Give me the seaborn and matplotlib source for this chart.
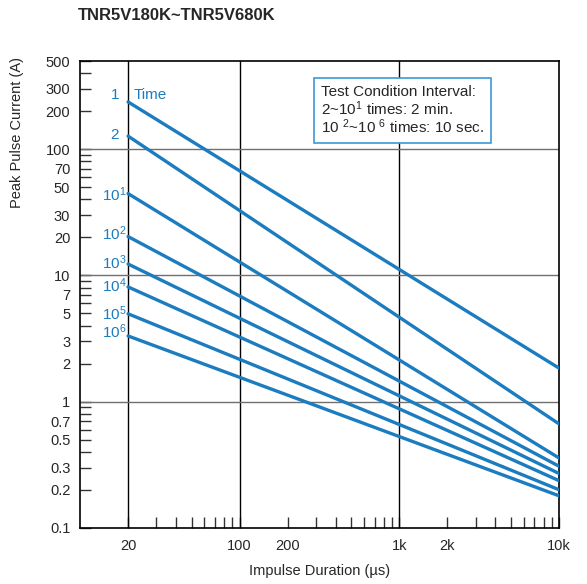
import numpy as np
import pandas as pd
import matplotlib
matplotlib.use('Agg')
import matplotlib.pyplot as plt
import seaborn as sns
from matplotlib.ticker import FixedLocator, NullFormatter

# data
durations = [20, 10000]
series = ['1', '2', '10^1', '10^2', '10^3', '10^4', '10^5', '10^6']
series_labels = ['1', '2', r'$\mathregular{10^1}$', r'$\mathregular{10^2}$', r'$\mathregular{10^3}$',
                 r'$\mathregular{10^4}$', r'$\mathregular{10^5}$', r'$\mathregular{10^6}$']
start_current = [237, 127, 44.5, 20.3, 12.3, 8.1, 4.96, 3.31]
end_current = [1.84, 0.665, 0.357, 0.307, 0.269, 0.236, 0.200, 0.179]

x_ticks = [20, 100, 200, 1000, 2000, 10000]
x_ticklabels = ['20', '100', '200', '1k', '2k', '10k']
y_ticks = [0.1, 0.2, 0.3, 0.5, 0.7, 1, 2, 3, 5, 7, 10, 20, 30, 50, 70, 100, 200, 300, 500]
y_ticklabels = ['0.1', '0.2', '0.3', '0.5', '0.7', '1', '2', '3', '5', '7', '10', '20', '30',
                '50', '70', '100', '200', '300', '500']

rows = []
for s, a, b in zip(series, start_current, end_current):
    rows.append({'series': s, 'duration': durations[0], 'current': a})
    rows.append({'series': s, 'duration': durations[1], 'current': b})
df = pd.DataFrame(rows)

sns.set_style('white')
plt.rcParams['font.family'] = ['Liberation Sans', 'DejaVu Sans']
plt.rcParams['mathtext.fontset'] = 'custom'
plt.rcParams['mathtext.rm'] = 'Liberation Sans'

blue = '#1b7cc0'

fig = plt.figure(figsize=(5.87, 5.84), dpi=100)
ax = fig.add_axes([80 / 587, 1 - 527.7 / 584, 479 / 587, 466.7 / 584])

ax.set_xscale('log')
ax.set_yscale('log')
ax.set_xlim(10, 10000)
ax.set_ylim(0.1, 500)

# grid lines
for xv in [20, 100, 1000]:
    ax.axvline(xv, color='black', lw=1.0, zorder=1)
for yv in [1, 10, 100]:
    ax.axhline(yv, color='#707070', lw=1.0, zorder=1)

sns.lineplot(data=df, x='duration', y='current', units='series', estimator=None,
             color=blue, lw=2.4, ax=ax, legend=False, zorder=3)

# series labels
offsets = [(-6, 5), (-7, 1), (-1, -1), (-1, 2), (-1, 1), (-1, 1), (-1, 0), (-1, 3)]
for lab, a, off in zip(series_labels, start_current, offsets):
    ax.annotate(lab, xy=(20, a), xytext=off, textcoords='offset points',
                ha='right', va='center', color=blue, fontsize=11)
ax.annotate('Time', xy=(20, start_current[0]), xytext=(4, 5), textcoords='offset points',
            ha='left', va='center', color=blue, fontsize=11)

# ticks
ax.xaxis.set_major_locator(FixedLocator(x_ticks))
ax.set_xticklabels(x_ticklabels)
x_minor = [30, 40, 50, 60, 70, 80, 90, 300, 400, 500, 600, 700, 800, 900,
           3000, 4000, 5000, 6000, 7000, 8000, 9000]
ax.xaxis.set_minor_locator(FixedLocator(x_minor))
ax.xaxis.set_minor_formatter(NullFormatter())
ax.yaxis.set_major_locator(FixedLocator(y_ticks))
ax.set_yticklabels(y_ticklabels)
y_minor = [0.4, 0.6, 0.8, 0.9, 4, 6, 8, 9, 40, 60, 80, 90, 400]
ax.yaxis.set_minor_locator(FixedLocator(y_minor))
ax.yaxis.set_minor_formatter(NullFormatter())

ax.tick_params(axis='both', which='both', direction='in', labelsize=10.5, color='#333333',
               bottom=True, left=True, top=False, right=False)
ax.tick_params(axis='x', which='both', length=8, width=1, pad=8)
ax.tick_params(axis='y', which='both', length=8, width=1, pad=7)

for sp in ax.spines.values():
    sp.set_color('black')
    sp.set_linewidth(1.2)

ax.set_xlabel('Impulse Duration (µs)', fontsize=10.5)
ax.set_ylabel('Peak Pulse Current (A)', fontsize=10.5)
ax.xaxis.set_label_coords(0.5, -0.078)
ax.yaxis.set_label_coords(-0.117, 0.846)

# test condition box
box_text = ('Test Condition Interval:\n'
            r'2~10$\mathregular{^1}$ times: 2 min.' '\n'
            r'10 $\mathregular{^2}$~10 $\mathregular{^6}$ times: 10 sec.')
ax.text(0.503, 0.948, box_text, transform=ax.transAxes, ha='left', va='top',
        fontsize=11, linespacing=0.98,
        bbox=dict(boxstyle='square,pad=0.45', fc='white', ec='#3a9ad9', lw=1.2), zorder=5)

fig.text(78 / 587, 1 - 15 / 584, 'TNR5V180K~TNR5V680K', ha='left', va='center',
         fontsize=12, fontweight='bold')

plt.savefig('out.png', dpi=100)
